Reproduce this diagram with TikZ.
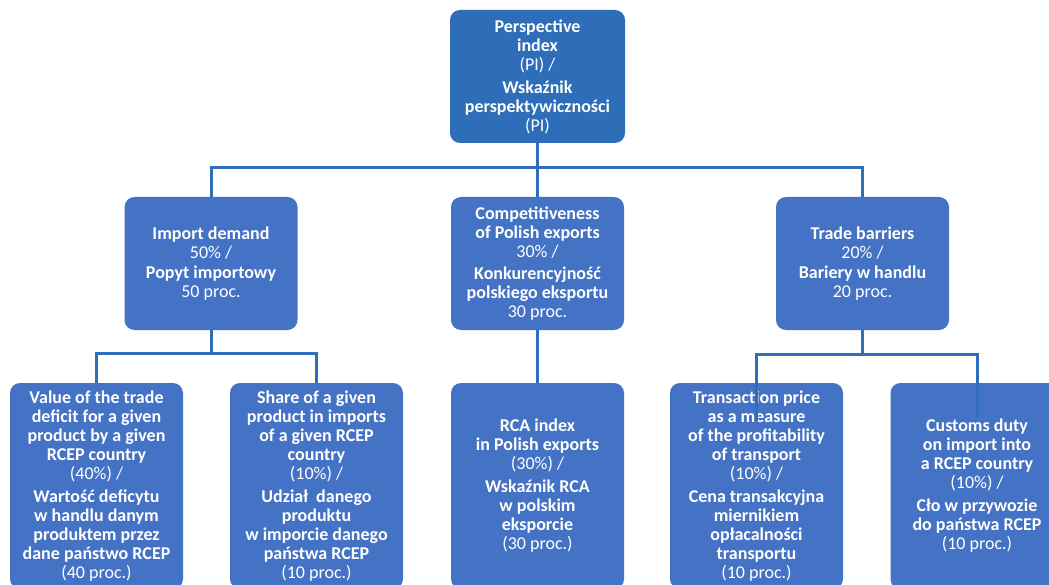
\documentclass[tikz,border=0pt]{standalone}
\usepackage{fontspec}
\setmainfont{Carlito}
\definecolor{topblue}{HTML}{2E6DB8}
\definecolor{boxblue}{HTML}{4472C4}
\definecolor{lineblue}{HTML}{2F6FBA}
\tikzset{
  box/.style={rounded corners=10pt, fill=boxblue, text=white, align=center,
    inner sep=0pt, minimum width=173pt, font=\fontsize{18}{19}\selectfont},
  topbox/.style={box, fill=topblue, minimum width=175pt, minimum height=133pt},
  midbox/.style={box, minimum height=133pt},
  lowbox/.style={box, minimum height=206pt},
  conn/.style={draw=lineblue, line width=3pt}
}
\begin{document}
\begin{tikzpicture}[x=1pt,y=-1pt]
\useasboundingbox (0,0) rectangle (1049,585);
\clip (0,0) rectangle (1049,585);
\node[topbox] (top) at (537.5,76.5) {\textbf{Perspective}\\\textbf{index}\\(PI) /\\[4pt]\textbf{Wskaźnik}\\\textbf{perspektywiczności}\\(PI)};
\node[midbox] (imp) at (211,263.5) {\textbf{Import demand}\\50\% /\\[1pt]\textbf{Popyt importowy}\\50 proc.};
\node[midbox] (comp) at (537.5,263.5) {\textbf{Competitiveness}\\\textbf{of Polish exports}\\30\% /\\[3pt]\textbf{Konkurencyjność}\\\textbf{polskiego eksportu}\\30 proc.};
\node[midbox] (trade) at (862.5,263.5) {\textbf{Trade barriers}\\20\% /\\[1pt]\textbf{Bariery w handlu}\\20 proc.};
\node[lowbox] (b1) at (96.5,486) {\textbf{Value of the trade}\\\textbf{deficit for a given}\\\textbf{product by a given}\\\textbf{RCEP country}\\(40\%) /\\[4pt]\textbf{Wartość deficytu}\\\textbf{w handlu danym}\\\textbf{produktem przez}\\\textbf{dane państwo RCEP}\\(40 proc.)};
\node[lowbox] (b2) at (316.5,486) {\textbf{Share of a given}\\\textbf{product in imports}\\\textbf{of a given RCEP}\\\textbf{country}\\(10\%) /\\[4pt]\textbf{Udział\ \ danego}\\\textbf{produktu}\\\textbf{w imporcie danego}\\\textbf{państwa RCEP}\\(10 proc.)};
\node[lowbox] (b3) at (537.5,486) {\textbf{RCA index}\\\textbf{in Polish exports}\\(30\%) /\\[4pt]\textbf{Wskaźnik RCA}\\\textbf{w polskim}\\\textbf{eksporcie}\\(30 proc.)};
\node[lowbox] (b4) at (756.5,486) {\textbf{Transaction price}\\\textbf{as a measure}\\\textbf{of the profitability}\\\textbf{of transport}\\(10\%) /\\[4pt]\textbf{Cena transakcyjna}\\\textbf{miernikiem}\\\textbf{opłacalności}\\\textbf{transportu}\\(10 proc.)};
\node[lowbox] (b5) at (977,486) {\textbf{Customs duty}\\\textbf{on import into}\\\textbf{a RCEP country}\\(10\%) /\\[4pt]\textbf{Cło w przywozie}\\\textbf{do państwa RCEP}\\(10 proc.)};
\coordinate (h1) at (537.5,168);
\coordinate (h2) at (211,353);
\coordinate (h3) at (862.5,354);
\coordinate (t4) at (756.5,421);
\coordinate (t5) at (977,418);
\draw[conn] (top.south) -- (comp.north);
\draw[conn] (imp.north) |- (h1) -| (trade.north);
\draw[conn] (imp.south) -- (h2);
\draw[conn] (b1.north) |- (h2) -| (b2.north);
\draw[conn] (comp.south) -- (b3.north);
\draw[conn] (trade.south) -- (h3);
\draw[conn] (t4) |- (h3) -| (t5);
\end{tikzpicture}
\end{document}
